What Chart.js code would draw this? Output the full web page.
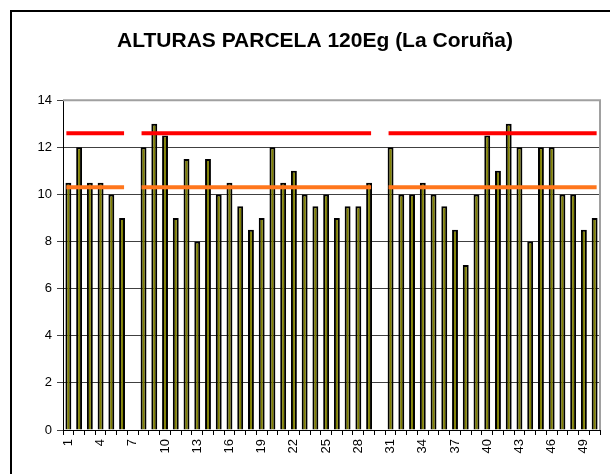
<!DOCTYPE html>
<html>
<head>
<meta charset="utf-8">
<script src="https://cdn.jsdelivr.net/npm/chart.js@4"></script>
<style>
  html, body { margin: 0; padding: 0; background: #fff; overflow: hidden; }
  #wrap { position: absolute; left: 0; top: 0; width: 630px; height: 490px; }
</style>
</head>
<body>
<div id="wrap"><canvas id="chart"></canvas></div>
<script>
// Plot numbers 1..50 (7 and 30 have no bar)
const plots = [];
for (let i = 1; i <= 50; i++) plots.push(String(i));

// Heights
const heights = [
  10.5, 12, 10.5, 10.5, 10, 9, null, 12, 13, 12.5,
  9, 11.5, 8, 11.5, 10, 10.5, 9.5, 8.5, 9, 12,
  10.5, 11, 10, 9.5, 10, 9, 9.5, 9.5, 10.5, null,
  12, 10, 10, 10.5, 10, 9.5, 8.5, 7, 10, 12.5,
  11, 13, 12, 8, 12, 12, 10, 10, 8.5, 9
];

// Reference levels (red upper line, orange lower line)
const upperLevel = 12.6;
const lowerLevel = 10.3;

const yTicks = [0, 2, 4, 6, 8, 10, 12, 14];

// Lines only run over the plots that have a bar
const upperLine = heights.map(h => h === null ? null : upperLevel);
const lowerLine = heights.map(h => h === null ? null : lowerLevel);

// Outer frame + grey plot border on top/right
const framePlugin = {
  id: 'frame',
  afterDraw(chart) {
    const ctx = chart.ctx;
    const a = chart.chartArea;
    ctx.save();
    ctx.strokeStyle = '#000';
    ctx.lineWidth = 2;
    ctx.strokeRect(11, 11, 700, 600);
    ctx.strokeStyle = '#a0a0a0';
    ctx.lineWidth = 2;
    ctx.beginPath();
    ctx.moveTo(a.left, a.top);
    ctx.lineTo(a.right, a.top);
    ctx.lineTo(a.right, a.bottom);
    ctx.stroke();
    ctx.restore();
  }
};

Chart.defaults.font.family = '"Liberation Sans", Arial, sans-serif';
Chart.defaults.color = '#000';

new Chart(document.getElementById('chart').getContext('2d'), {
  type: 'bar',
  data: {
    labels: plots,
    datasets: [
      {
        type: 'line',
        data: upperLine,
        borderColor: '#ff0000',
        borderWidth: 4,
        borderCapStyle: 'square',
        pointRadius: 0,
        spanGaps: false,
        order: 0
      },
      {
        type: 'line',
        data: lowerLine,
        borderColor: '#ff761c',
        borderWidth: 4,
        borderCapStyle: 'square',
        pointRadius: 0,
        spanGaps: false,
        order: 0
      },
      {
        data: heights,
        backgroundColor: '#808000',
        borderColor: '#000',
        borderWidth: 2,
        barPercentage: 0.55,
        categoryPercentage: 1,
        order: 1
      }
    ]
  },
  options: {
    responsive: true,
    maintainAspectRatio: false,
    animation: false,
    layout: { padding: { left: 30, right: 30, top: 0, bottom: 0 } },
    plugins: {
      legend: { display: false },
      tooltip: { enabled: false },
      title: {
        display: true,
        text: 'ALTURAS PARCELA 120Eg (La Coruña)',
        color: '#000',
        font: { size: 21, weight: 'bold' },
        padding: { top: 29, bottom: 46 }
      }
    },
    scales: {
      x: {
        afterFit(scale) { scale.height = 60; },
        grid: {
          offset: true,
          drawOnChartArea: false,
          tickLength: 5,
          color: '#000'
        },
        border: { color: '#000', width: 1 },
        ticks: {
          autoSkip: false,
          minRotation: 90,
          maxRotation: 90,
          padding: 4,
          font: { size: 13 },
          callback(val, i) { return i % 3 === 0 ? plots[i] : ''; }
        }
      },
      y: {
        min: 0,
        max: 14,
        afterFit(scale) { scale.width = 33; },
        afterBuildTicks(scale) { scale.ticks = yTicks.map(v => ({ value: v })); },
        grid: {
          color: '#404040',
          lineWidth: 1,
          tickLength: 6
        },
        border: { color: '#000', width: 1 },
        ticks: {
          padding: 5,
          font: { size: 13 }
        }
      }
    }
  },
  plugins: [framePlugin]
});
</script>
</body>
</html>
